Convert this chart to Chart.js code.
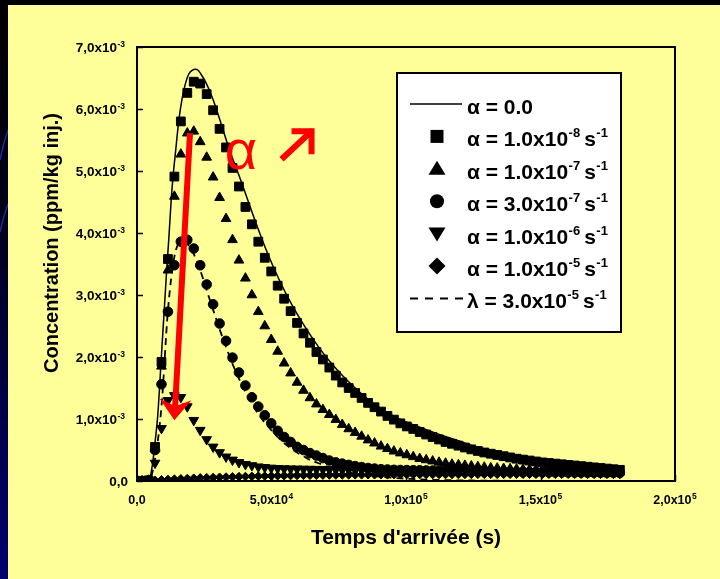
<!DOCTYPE html>
<html>
<head>
<meta charset="utf-8">
<script src="https://cdn.jsdelivr.net/npm/chart.js@4.4.0/dist/chart.umd.min.js"></script>
<style>
  html, body { margin: 0; padding: 0; background: #000; }
  #wrap { position: relative; width: 720px; height: 579px; }
</style>
</head>
<body>
<div id="wrap"><canvas id="chart" width="720" height="579"></canvas></div>
<script>
// output times of the simulated points (s)
const times = [
  1900, 4300, 6700, 9100, 11500, 13900, 16300, 18700, 21100, 23500,
  25900, 28300, 30700, 33100, 35500, 37900, 40300, 42700, 45100, 47500,
  49900, 52300, 54700, 57100, 59500, 61900, 64300, 66700, 69100, 71500,
  73900, 76300, 78700, 81100, 83500, 85900, 88300, 90700, 93100, 95500,
  97900, 100300, 102700, 105100, 107500, 109900, 112300, 114700, 117100, 119500,
  121900, 124300, 126700, 129100, 131500, 133900, 136300, 138700, 141100, 143500,
  145900, 148300, 150700, 153100, 155500, 157900, 160300, 162700, 165100, 167500,
  169900, 172300, 174700, 177100, 179500
];

// concentrations, in units of 1e-3 ppm/kg inj.
const alpha1e8 = [
  0, 0.01, 0.55, 1.92, 3.58, 4.91, 5.80, 6.26, 6.44, 6.41,
  6.24, 5.98, 5.68, 5.38, 5.05, 4.75, 4.42, 4.14, 3.86, 3.60,
  3.38, 3.15, 2.94, 2.74, 2.55, 2.38, 2.23, 2.08, 1.96, 1.83,
  1.70, 1.59, 1.50, 1.42, 1.34, 1.26, 1.19, 1.12, 1.05, 0.99,
  0.93, 0.88, 0.84, 0.79, 0.75, 0.71, 0.67, 0.63, 0.60, 0.57,
  0.54, 0.51, 0.485, 0.46, 0.44, 0.42, 0.40, 0.38, 0.36, 0.345,
  0.33, 0.315, 0.30, 0.29, 0.28, 0.27, 0.26, 0.25, 0.24, 0.23,
  0.22, 0.21, 0.20, 0.19, 0.18
];
const alpha1e7 = [
  0, 0.01, 0.52, 1.85, 3.40, 4.59, 5.27, 5.61, 5.64, 5.47,
  5.22, 4.90, 4.57, 4.23, 3.89, 3.56, 3.27, 3.00, 2.73, 2.50,
  2.28, 2.09, 1.90, 1.74, 1.59, 1.46, 1.34, 1.24, 1.15, 1.07,
  0.99, 0.91, 0.84, 0.78, 0.72, 0.66, 0.61, 0.56, 0.52, 0.48,
  0.45, 0.42, 0.39, 0.36, 0.34, 0.32, 0.30, 0.285, 0.27, 0.26,
  0.25, 0.24, 0.23, 0.22, 0.21, 0.205, 0.20, 0.195, 0.19, 0.186,
  0.182, 0.178, 0.175, 0.172, 0.169, 0.166, 0.163, 0.16, 0.158, 0.156,
  0.154, 0.152, 0.15, 0.148, 0.146
];
const alpha3e7 = [
  0, 0.01, 0.50, 1.56, 2.73, 3.48, 3.86, 3.89, 3.75, 3.48,
  3.17, 2.85, 2.54, 2.26, 1.99, 1.75, 1.54, 1.35, 1.20, 1.06,
  0.93, 0.81, 0.71, 0.63, 0.55, 0.50, 0.45, 0.41, 0.37, 0.33,
  0.30, 0.28, 0.26, 0.24, 0.225, 0.21, 0.20, 0.19, 0.185, 0.18,
  0.178, 0.176, 0.174, 0.172, 0.17, 0.168, 0.166, 0.164, 0.162, 0.16,
  0.158, 0.156, 0.154, 0.152, 0.15, 0.149, 0.148, 0.147, 0.146, 0.145,
  0.144, 0.143, 0.142, 0.141, 0.14, 0.139, 0.138, 0.137, 0.136, 0.135,
  0.134, 0.133, 0.132, 0.131, 0.13
];
const alpha1e6 = [
  0, 0.01, 0.29, 0.85, 1.30, 1.38, 1.35, 1.20, 0.98, 0.82,
  0.67, 0.55, 0.46, 0.39, 0.34, 0.30, 0.27, 0.25, 0.23, 0.22,
  0.21, 0.205, 0.20, 0.198, 0.196, 0.194, 0.192, 0.19, 0.188, 0.186,
  0.184, 0.182, 0.18, 0.178, 0.176, 0.174, 0.172, 0.17, 0.168, 0.166,
  0.165, 0.164, 0.163, 0.162, 0.161, 0.16, 0.159, 0.158, 0.157, 0.156,
  0.155, 0.154, 0.153, 0.152, 0.151, 0.15, 0.149, 0.148, 0.147, 0.146,
  0.145, 0.144, 0.143, 0.142, 0.141, 0.14, 0.139, 0.138, 0.137, 0.136,
  0.135, 0.134, 0.133, 0.132, 0.131
];
const alpha1e5 = [
  0, 0.005, 0.01, 0.02, 0.025, 0.03, 0.035, 0.04, 0.045, 0.05,
  0.053, 0.056, 0.06, 0.063, 0.066, 0.07, 0.072, 0.075, 0.078, 0.08,
  0.082, 0.084, 0.086, 0.088, 0.09, 0.092, 0.093, 0.094, 0.095, 0.096,
  0.097, 0.098, 0.099, 0.1, 0.1, 0.101, 0.101, 0.102, 0.102, 0.103,
  0.103, 0.104, 0.104, 0.105, 0.105, 0.105, 0.106, 0.106, 0.106, 0.107,
  0.107, 0.107, 0.108, 0.108, 0.108, 0.108, 0.109, 0.109, 0.109, 0.109,
  0.11, 0.11, 0.11, 0.11, 0.11, 0.11, 0.11, 0.11, 0.11, 0.11,
  0.11, 0.11, 0.11, 0.11, 0.11
];
const lambda3e5 = [
  0, 0, 0.35, 1.20, 2.75, 3.62, 3.85, 3.82, 3.66, 3.40,
  3.08, 2.76, 2.45, 2.16, 1.89, 1.65, 1.44, 1.25, 1.08, 0.94,
  0.82, 0.71, 0.61, 0.53, 0.46, 0.40, 0.34, 0.30, 0.26, 0.22,
  0.19, 0.165, 0.14, 0.12, 0.105, 0.09, 0.078, 0.067, 0.058, 0.05,
  0.043, 0.037, 0.032, 0.027, 0.023, 0.02, 0.017, 0.015, 0.013, 0.011,
  0.009, 0.008, 0.007, 0.006, 0.005, 0.004, 0.004, 0.003, 0.003, 0.002,
  0.002, 0.002, 0.001, 0.001, 0.001, 0.001, 0.001, 0, 0, 0,
  0, 0, 0, 0, 0
];

// alpha = 0 reference curve (own time base)
const alpha0Times = [
  0, 3000, 4600, 5200, 6000, 6800, 7700, 8700, 9400, 10200,
  11000, 11800, 12800, 13400, 14400, 15500, 16700, 18000, 19200, 20400,
  21700, 22800, 23800, 25800, 28300, 30400, 34400, 39000, 43400, 48000,
  52800, 57600, 62400, 67200, 72000, 76800, 81600, 86400, 91200, 96000,
  100800, 108000, 115200, 120000, 127200, 136800, 144000, 153600, 163200, 172800,
  180000
];
const alpha0 = [
  0, 0, 0.01, 0.12, 0.35, 0.66, 1.05, 1.74, 2.25, 2.81,
  3.38, 3.89, 4.59, 4.91, 5.34, 5.80, 6.15, 6.41, 6.56, 6.62,
  6.64, 6.62, 6.56, 6.41, 6.15, 5.88, 5.34, 4.80, 4.26, 3.73,
  3.25, 2.84, 2.49, 2.18, 1.91, 1.68, 1.48, 1.30, 1.15, 1.03,
  0.94, 0.82, 0.71, 0.64, 0.54, 0.45, 0.39, 0.32, 0.28, 0.245,
  0.22
];

const xTickValues = [0, 50000, 100000, 150000, 200000];
const xTickLabels = ['0,0', '5,0x10', '1,0x10', '1,5x10', '2,0x10'];
const xTickExps = ['', '4', '5', '5', '5'];
const yTickValues = [0, 1, 2, 3, 4, 5, 6, 7];
const yTickLabels = ['0,0', '1,0x10', '2,0x10', '3,0x10', '4,0x10', '5,0x10', '6,0x10', '7,0x10'];
const yTickExps = ['', '-3', '-3', '-3', '-3', '-3', '-3', '-3'];

const legendNames = ['α = 0.0', 'α = 1.0x10', 'α = 1.0x10', 'α = 3.0x10', 'α = 1.0x10', 'α = 1.0x10', 'λ = 3.0x10'];
const legendExps = ['', '-8', '-7', '-7', '-6', '-5', '-5'];
const legendSymbols = ['line', 'rect', 'triangle', 'circle', 'triangleDown', 'rectRot', 'dash'];

const FONT = "'Liberation Sans', Arial, sans-serif";

function pts(xs, ys) {
  return xs.map((x, i) => ({ x: x, y: ys[i] }));
}

function drawSup(ctx, x, y, base, sup, mainSize, supSize, rise, align) {
  ctx.font = 'bold ' + mainSize + 'px ' + FONT;
  const wb = ctx.measureText(base).width;
  ctx.font = 'bold ' + supSize + 'px ' + FONT;
  const ws = sup ? ctx.measureText(sup).width + 0.5 : 0;
  let start = x;
  if (align === 'right') start = x - wb - ws;
  if (align === 'center') start = x - (wb + ws) / 2;
  ctx.font = 'bold ' + mainSize + 'px ' + FONT;
  ctx.fillText(base, start, y);
  if (sup) {
    ctx.font = 'bold ' + supSize + 'px ' + FONT;
    ctx.fillText(sup, start + wb + 0.5, y - rise);
  }
  return start + wb + ws;
}

function drawSymbol(ctx, kind, x, y) {
  ctx.beginPath();
  if (kind === 'rect') {
    ctx.rect(x - 6.5, y - 6.5, 13, 13);
  } else if (kind === 'triangle') {
    ctx.moveTo(x, y - 8); ctx.lineTo(x + 8.5, y + 6); ctx.lineTo(x - 8.5, y + 6);
  } else if (kind === 'triangleDown') {
    ctx.moveTo(x, y + 8); ctx.lineTo(x + 8.5, y - 6); ctx.lineTo(x - 8.5, y - 6);
  } else if (kind === 'circle') {
    ctx.arc(x, y, 7, 0, Math.PI * 2);
  } else if (kind === 'rectRot') {
    ctx.moveTo(x, y - 8.5); ctx.lineTo(x + 8.5, y); ctx.lineTo(x, y + 8.5); ctx.lineTo(x - 8.5, y);
  }
  ctx.closePath();
  ctx.fill();
}

const slidePlugin = {
  id: 'slide',
  beforeDraw(chart) {
    const ctx = chart.ctx;
    ctx.save();
    const g = ctx.createLinearGradient(0, 0, 0, chart.height);
    g.addColorStop(0, '#000000');
    g.addColorStop(0.35, '#000018');
    g.addColorStop(1, '#000070');
    ctx.fillStyle = g;
    ctx.fillRect(0, 0, chart.width, chart.height);
    ctx.strokeStyle = '#1c2a9a';
    ctx.lineWidth = 1.5;
    ctx.beginPath(); ctx.moveTo(0, 160); ctx.quadraticCurveTo(4, 140, 9, 128); ctx.stroke();
    ctx.beginPath(); ctx.moveTo(0, 232); ctx.quadraticCurveTo(4, 214, 9, 202); ctx.stroke();
    ctx.fillStyle = '#FFFF99';
    ctx.fillRect(8, 5, chart.width - 8, chart.height - 5);
    ctx.restore();
  },
  afterDatasetsDraw(chart) {
    const ctx = chart.ctx;
    const a = chart.chartArea;
    const xs = chart.scales.x, ys = chart.scales.y;
    ctx.save();
    ctx.strokeStyle = '#000';
    ctx.lineWidth = 2;
    ctx.strokeRect(a.left, a.top, a.right - a.left, a.bottom - a.top);
    ctx.lineWidth = 1.5;
    ctx.beginPath();
    yTickValues.forEach(v => {
      const py = Math.round(ys.getPixelForValue(v)) + 0.5;
      ctx.moveTo(a.left, py); ctx.lineTo(a.left + 6, py);
    });
    xTickValues.forEach(v => {
      const px = Math.round(xs.getPixelForValue(v)) + 0.5;
      ctx.moveTo(px, a.bottom); ctx.lineTo(px, a.bottom - 6);
    });
    ctx.stroke();

    // red annotation: big arrow
    ctx.strokeStyle = '#FF0000';
    ctx.fillStyle = '#FF0000';
    const x1 = xs.getPixelForValue(19700), y1 = ys.getPixelForValue(5.61);
    const x2 = xs.getPixelForValue(13900), y2 = ys.getPixelForValue(0.98);
    const dx = x2 - x1, dy = y2 - y1, len = Math.hypot(dx, dy);
    const ux = dx / len, uy = dy / len, nx = -uy, ny = ux;
    const headLen = 21, headHalf = 16, notch = 14;
    ctx.lineWidth = 6;
    ctx.lineCap = 'butt';
    ctx.beginPath();
    ctx.moveTo(x1, y1);
    ctx.lineTo(x2 - ux * notch, y2 - uy * notch);
    ctx.stroke();
    ctx.beginPath();
    ctx.moveTo(x2, y2);
    ctx.lineTo(x2 - ux * headLen + nx * headHalf, y2 - uy * headLen + ny * headHalf);
    ctx.lineTo(x2 - ux * notch, y2 - uy * notch);
    ctx.lineTo(x2 - ux * headLen - nx * headHalf, y2 - uy * headLen - ny * headHalf);
    ctx.closePath();
    ctx.fill();

    // alpha symbol and small up-right arrow
    ctx.font = '56px ' + FONT;
    ctx.textAlign = 'left';
    ctx.textBaseline = 'alphabetic';
    ctx.fillText('α', xs.getPixelForValue(32600), ys.getPixelForValue(5.03));
    const tx = xs.getPixelForValue(66000), ty = ys.getPixelForValue(5.69);
    ctx.lineWidth = 6;
    ctx.lineJoin = 'miter';
    ctx.beginPath();
    ctx.moveTo(tx - 33, ty + 31);
    ctx.lineTo(tx - 2, ty + 2);
    ctx.stroke();
    ctx.beginPath();
    ctx.moveTo(tx - 23, ty + 3);
    ctx.lineTo(tx - 3, ty + 3);
    ctx.lineTo(tx - 3, ty + 26);
    ctx.stroke();
    ctx.restore();
  },
  afterDraw(chart) {
    const ctx = chart.ctx;
    const a = chart.chartArea;
    const xs = chart.scales.x, ys = chart.scales.y;
    ctx.save();
    ctx.fillStyle = '#000';
    ctx.textAlign = 'left';
    ctx.textBaseline = 'alphabetic';

    // tick labels with superscript exponents
    yTickValues.forEach((v, i) => {
      const py = ys.getPixelForValue(v);
      const right = yTickExps[i] ? a.left - 12 : a.left - 9;
      drawSup(ctx, right, py + 5, yTickLabels[i], yTickExps[i], 13.5, 8.5, 5, 'right');
    });
    xTickValues.forEach((v, i) => {
      const px = xs.getPixelForValue(v);
      drawSup(ctx, px, a.bottom + 23, xTickLabels[i], xTickExps[i], 12.5, 8.5, 5, 'center');
    });

    // axis titles
    ctx.font = 'bold 21px ' + FONT;
    ctx.textAlign = 'center';
    ctx.fillText("Temps d'arrivée (s)", (a.left + a.right) / 2, 544);
    ctx.save();
    ctx.translate(58, 243);
    ctx.rotate(-Math.PI / 2);
    ctx.font = 'bold 20px ' + FONT;
    ctx.fillText('Concentration (ppm/kg inj.)', 0, 0);
    ctx.restore();

    // legend box
    const bx = 397, by = 73, bw = 224, bh = 259;
    ctx.fillStyle = '#FFFFFF';
    ctx.fillRect(bx, by, bw, bh);
    ctx.strokeStyle = '#000';
    ctx.lineWidth = 2;
    ctx.strokeRect(bx, by, bw, bh);
    ctx.fillStyle = '#000';
    ctx.textAlign = 'left';
    const rowY0 = 104, rowStep = 32.4, symX = 437, textX = 467;
    legendNames.forEach((name, i) => {
      const ry = rowY0 + i * rowStep;
      const kind = legendSymbols[i];
      if (kind === 'line') {
        ctx.lineWidth = 1.3;
        ctx.setLineDash([]);
        ctx.beginPath(); ctx.moveTo(410, ry); ctx.lineTo(462, ry); ctx.stroke();
      } else if (kind === 'dash') {
        ctx.lineWidth = 2;
        ctx.setLineDash([8, 7]);
        ctx.beginPath(); ctx.moveTo(410, ry); ctx.lineTo(463, ry); ctx.stroke();
        ctx.setLineDash([]);
      } else {
        drawSymbol(ctx, kind, symX, ry);
      }
      const base = ry + 10;
      let end = drawSup(ctx, textX, base, name, legendExps[i], 21, 13, 9, 'left');
      if (legendExps[i]) {
        drawSup(ctx, end + 4, base, 's', '-1', 21, 13, 9, 'left');
      }
    });
    ctx.restore();
  }
};

const markerBase = {
  showLine: false,
  backgroundColor: '#000',
  borderColor: '#000',
  borderWidth: 1,
  clip: 0
};

new Chart(document.getElementById('chart').getContext('2d'), {
  type: 'line',
  data: {
    datasets: [
      { label: 'α = 0.0', data: pts(alpha0Times, alpha0), borderColor: '#000', borderWidth: 1.5,
        pointRadius: 0, fill: false, cubicInterpolationMode: 'monotone' },
      Object.assign({ label: 'α = 1.0x10-8 s-1', data: pts(times, alpha1e8), pointStyle: 'rect', pointRadius: 6.2 }, markerBase),
      Object.assign({ label: 'α = 1.0x10-7 s-1', data: pts(times, alpha1e7), pointStyle: 'triangle', pointRadius: 5.6 }, markerBase),
      Object.assign({ label: 'α = 3.0x10-7 s-1', data: pts(times, alpha3e7), pointStyle: 'circle', pointRadius: 4.8 }, markerBase),
      Object.assign({ label: 'α = 1.0x10-6 s-1', data: pts(times, alpha1e6), pointStyle: 'triangle', pointRotation: 180, pointRadius: 5.6 }, markerBase),
      Object.assign({ label: 'α = 1.0x10-5 s-1', data: pts(times, alpha1e5), pointStyle: 'rectRot', pointRadius: 4.3 }, markerBase),
      { label: 'λ = 3.0x10-5 s-1', data: pts(times, lambda3e5), borderColor: '#000', borderWidth: 1.8,
        borderDash: [7, 5], pointRadius: 0, fill: false, cubicInterpolationMode: 'monotone' }
    ]
  },
  options: {
    responsive: false,
    animation: false,
    devicePixelRatio: 1,
    layout: { padding: { left: 137, top: 47, right: 45, bottom: 98 } },
    plugins: { legend: { display: false }, tooltip: { enabled: false } },
    scales: {
      x: {
        type: 'linear', min: 0, max: 200000,
        ticks: { display: false }, grid: { display: false }, border: { display: false },
        afterFit(s) { s.height = 0; }
      },
      y: {
        type: 'linear', min: 0, max: 7,
        ticks: { display: false }, grid: { display: false }, border: { display: false },
        afterFit(s) { s.width = 0; }
      }
    }
  },
  plugins: [slidePlugin]
});
</script>
</body>
</html>
